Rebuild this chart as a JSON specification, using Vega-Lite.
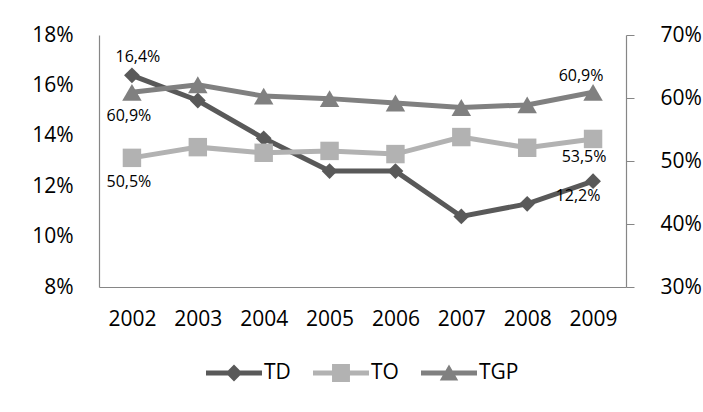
{
  "$schema": "https://vega.github.io/schema/vega-lite/v6.json",
  "width": 527,
  "height": 252,
  "autosize": "none",
  "padding": {"left": 99, "top": 35, "right": 77, "bottom": 125},
  "config": {
    "view": {"stroke": null},
    "font": "Open Sans",
    "locale": {"number": {"decimal": ",", "thousands": ".", "grouping": [3], "currency": ["", " €"]}},
    "axis": {"grid": false, "title": null, "domainColor": "#868686", "domainWidth": 1.2, "labelColor": "#000000", "labelFontSize": 21, "labelFont": "Open Sans", "ticks": false},
    "legend": {"title": null, "labelFontSize": 21, "labelFont": "Open Sans", "labelColor": "#000000", "symbolSize": 3136, "labelOffset": 2, "columnPadding": 22}
  },
  "data": {"values": [
    {"year": "2002", "series": "TD", "value": 0.164},
    {"year": "2003", "series": "TD", "value": 0.154},
    {"year": "2004", "series": "TD", "value": 0.139},
    {"year": "2005", "series": "TD", "value": 0.126},
    {"year": "2006", "series": "TD", "value": 0.126},
    {"year": "2007", "series": "TD", "value": 0.108},
    {"year": "2008", "series": "TD", "value": 0.113},
    {"year": "2009", "series": "TD", "value": 0.122},
    {"year": "2002", "series": "TO", "value": 0.505},
    {"year": "2003", "series": "TO", "value": 0.522},
    {"year": "2004", "series": "TO", "value": 0.513},
    {"year": "2005", "series": "TO", "value": 0.516},
    {"year": "2006", "series": "TO", "value": 0.511},
    {"year": "2007", "series": "TO", "value": 0.538},
    {"year": "2008", "series": "TO", "value": 0.521},
    {"year": "2009", "series": "TO", "value": 0.535},
    {"year": "2002", "series": "TGP", "value": 0.609},
    {"year": "2003", "series": "TGP", "value": 0.621},
    {"year": "2004", "series": "TGP", "value": 0.603},
    {"year": "2005", "series": "TGP", "value": 0.599},
    {"year": "2006", "series": "TGP", "value": 0.592},
    {"year": "2007", "series": "TGP", "value": 0.585},
    {"year": "2008", "series": "TGP", "value": 0.589},
    {"year": "2009", "series": "TGP", "value": 0.609}
  ]},
  "encoding": {
    "x": {"field": "year", "type": "ordinal", "scale": {"type": "point", "padding": 0.5}, "axis": {"labelAngle": 0, "labelPadding": 21}},
    "color": {"field": "series", "type": "nominal", "sort": ["TD", "TO", "TGP"],
      "scale": {"domain": ["TD", "TO", "TGP"], "range": ["#595959", "#b2b2b2", "#808080"]},
      "legend": {
        "orient": "none", "direction": "horizontal", "legendX": 107, "legendY": 310,
        "encode": {"symbols": {"update": {
          "shape": {"signal": "datum.value === 'TD' ? 'M-1,-0.09H1V0.09H-1Z M0,-0.3L0.3,0L0,0.3L-0.3,0Z' : datum.value === 'TO' ? 'M-1,-0.09H1V0.09H-1Z M-0.32,-0.32H0.32V0.32H-0.32Z' : 'M-1,-0.09H1V0.09H-1Z M0,-0.3L0.33,0.27H-0.33Z'"},
          "fill": {"signal": "datum.value === 'TD' ? '#595959' : datum.value === 'TO' ? '#b2b2b2' : '#808080'"},
          "stroke": {"value": "transparent"},
          "strokeWidth": {"value": 0},
          "opacity": {"value": 1}
        }}}
      }
    }
  },
  "layer": [
    {
      "transform": [{"filter": "datum.series === 'TD'"}],
      "encoding": {
        "y": {"field": "value", "type": "quantitative", "scale": {"domain": [0.08, 0.18], "nice": false, "zero": false},
          "axis": {"orient": "left", "format": ".0%", "values": [0.08, 0.10, 0.12, 0.14, 0.16, 0.18], "labelPadding": 26}}
      },
      "layer": [
        {"mark": {"type": "line", "strokeWidth": 5}},
        {"mark": {"type": "point", "filled": true, "opacity": 1, "shape": "diamond", "size": 250}},
        {"transform": [{"filter": "datum.year === '2002'"}],
         "mark": {"type": "text", "fontSize": 16, "dx": 6, "dy": -18, "font": "Open Sans"},
         "encoding": {"text": {"field": "value", "type": "quantitative", "format": ".1%"}, "color": {"value": "#000000"}}},
        {"transform": [{"filter": "datum.year === '2009'"}],
         "mark": {"type": "text", "fontSize": 16, "dx": -15, "dy": 15, "font": "Open Sans"},
         "encoding": {"text": {"field": "value", "type": "quantitative", "format": ".1%"}, "color": {"value": "#000000"}}}
      ]
    },
    {
      "transform": [{"filter": "datum.series !== 'TD'"}],
      "encoding": {
        "y": {"field": "value", "type": "quantitative", "scale": {"domain": [0.3, 0.7], "nice": false, "zero": false},
          "axis": {"orient": "right", "format": ".0%", "values": [0.3, 0.4, 0.5, 0.6, 0.7], "ticks": true, "tickSize": 8, "tickColor": "#868686", "labelPadding": 26}}
      },
      "layer": [
        {"mark": {"type": "line", "strokeWidth": 5}},
        {"transform": [{"filter": "datum.series === 'TO'"}],
         "mark": {"type": "point", "filled": true, "opacity": 1, "shape": "square", "size": 340}},
        {"transform": [{"filter": "datum.series === 'TGP'"}],
         "mark": {"type": "point", "filled": true, "opacity": 1, "shape": "triangle-up", "size": 380}},
        {"transform": [{"filter": "datum.year === '2002'"}],
         "mark": {"type": "text", "fontSize": 16, "dx": -3, "dy": 24, "font": "Open Sans"},
         "encoding": {"text": {"field": "value", "type": "quantitative", "format": ".1%"}, "color": {"value": "#000000"}}},
        {"transform": [{"filter": "datum.year === '2009' && datum.series === 'TGP'"}],
         "mark": {"type": "text", "fontSize": 16, "dx": -12, "dy": -16, "font": "Open Sans"},
         "encoding": {"text": {"field": "value", "type": "quantitative", "format": ".1%"}, "color": {"value": "#000000"}}},
        {"transform": [{"filter": "datum.year === '2009' && datum.series === 'TO'"}],
         "mark": {"type": "text", "fontSize": 16, "dx": -9, "dy": 18, "font": "Open Sans"},
         "encoding": {"text": {"field": "value", "type": "quantitative", "format": ".1%"}, "color": {"value": "#000000"}}}
      ]
    }
  ],
  "resolve": {"scale": {"y": "independent"}}
}
